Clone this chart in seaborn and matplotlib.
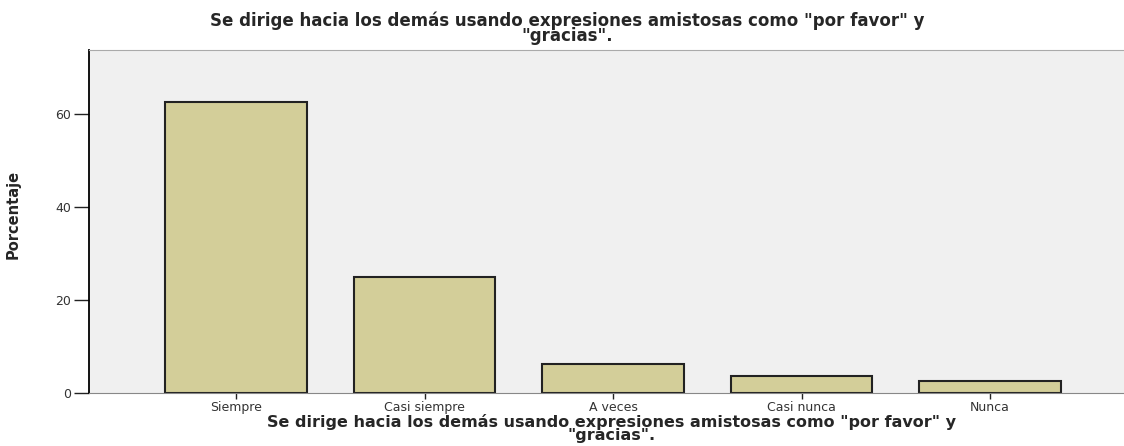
import pandas as pd
import matplotlib.pyplot as plt
import seaborn as sns

categorias = ["Siempre", "Casi siempre", "A veces", "Casi nunca", "Nunca"]
porcentajes = [62.5, 25.0, 6.25, 3.75, 2.5]
titulo = 'Se dirige hacia los demás usando expresiones amistosas como "por favor" y\n"gracias".'

df = pd.DataFrame({"cat": categorias, "pct": porcentajes})

sns.set_style("white")
plt.rcParams["font.family"] = ["DejaVu Sans"]

fig = plt.figure(figsize=(11.24, 4.46), dpi=100)
ax = fig.add_axes([0.0792, 0.1188, 0.9208, 0.7692])
ax.set_facecolor("#F0F0F0")

sns.barplot(data=df, x="cat", y="pct", ax=ax, color="#D3CE99", saturation=1,
            width=0.75, edgecolor="#222222", linewidth=1.5)

ax.set_xlim(-0.78, 4.71)
ax.set_ylim(0, 73.8)
ax.set_yticks([0, 20, 40, 60])

ax.spines["top"].set_visible(True)
ax.spines["top"].set_color("#AAAAAA")
ax.spines["right"].set_visible(False)
ax.spines["bottom"].set_color("#888888")
ax.spines["left"].set_color("black")
ax.spines["left"].set_linewidth(1.3)

ax.tick_params(axis="both", bottom=True, left=True, direction="out", width=1,
               colors="#222222", labelsize=9, labelcolor="#333333")
ax.tick_params(axis="x", length=4, pad=2)
ax.tick_params(axis="y", length=11, pad=2)

ax.set_ylabel("Porcentaje", fontsize=10.5, fontweight="bold",
              family=["Liberation Sans Narrow", "DejaVu Sans"])
ax.yaxis.set_label_coords(-0.066, 0.52)
ax.set_xlabel(titulo, fontsize=11.5, fontweight="bold", linespacing=0.8)
ax.xaxis.set_label_coords(0.505, -0.062)
ax.xaxis.label.set_va("top")

fig.text(0.505, 0.975, titulo, ha="center", va="top", fontsize=12,
         fontweight="bold", linespacing=0.8)

fig.savefig("out.png", dpi=100)
